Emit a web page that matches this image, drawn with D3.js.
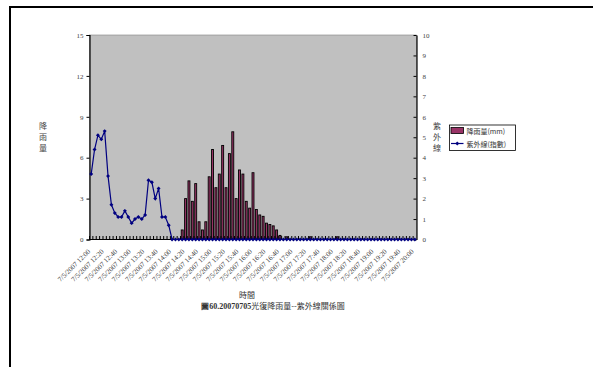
<!DOCTYPE html>
<html>
<head>
<meta charset="utf-8">
<script src="https://cdn.jsdelivr.net/npm/d3@7"></script>
<style>
  body { margin: 0; background: #fff; }
  svg { display: block; }
</style>
</head>
<body>
<div id="chart"></div>
<script>
// ---- data ----
const datePrefix = "7/5/2007 " ;
const times = [
  "12:00","12:05","12:10","12:15","12:20","12:25","12:30","12:35","12:40","12:45","12:50","12:55",
  "13:00","13:05","13:10","13:15","13:20","13:25","13:30","13:35","13:40","13:45","13:50","13:55",
  "14:00","14:05","14:10","14:15","14:20","14:25","14:30","14:35","14:40","14:45","14:50","14:55",
  "15:00","15:05","15:10","15:15","15:20","15:25","15:30","15:35","15:40","15:45","15:50","15:55",
  "16:00","16:05","16:10","16:15","16:20","16:25","16:30","16:35","16:40","16:45","16:50","16:55",
  "17:00","17:05","17:10","17:15","17:20","17:25","17:30","17:35","17:40","17:45","17:50","17:55",
  "18:00","18:05","18:10","18:15","18:20","18:25","18:30","18:35","18:40","18:45","18:50","18:55",
  "19:00","19:05","19:10","19:15","19:20","19:25","19:30","19:35","19:40","19:45","19:50","19:55",
  "20:00"
] ;
const tickTimes = [
  "12:00","12:20","12:40","13:00","13:20","13:40","14:00","14:20","14:40","15:00","15:20","15:40",
  "16:00","16:20","16:40","17:00","17:20","17:40","18:00","18:20","18:40","19:00","19:20","19:40","20:00"
] ;
// 降雨量 (mm), left axis
const rain = [
  0,0,0,0,0,0,0,0,0,0,0,0,
  0,0,0,0,0,0,0,0,0,0,0,0,
  0,0,0,0.7,3.0,4.3,2.8,4.1,1.3,0.7,1.3,4.6,
  6.6,3.8,4.8,6.9,3.8,6.3,7.9,3.0,5.1,4.8,2.8,2.3,
  4.9,2.2,1.8,1.7,1.2,1.1,1.0,0.7,0.3,0,0.2,0,
  0,0,0,0,0,0.2,0,0,0,0,0,0,
  0,0.2,0,0,0,0,0,0,0,0,0,0,
  0,0,0,0,0,0,0,0,0,0,0,0,
  0
] ;
// 紫外線 (指數), right axis
const uv = [
  3.2,4.4,5.1,4.9,5.3,3.1,1.7,1.3,1.1,1.1,1.4,1.1,
  0.8,1.0,1.1,1.0,1.2,2.9,2.8,2.0,2.5,1.1,1.1,0.7,
  0,0,0,0,0,0,0,0,0,0,0,0,
  0,0,0,0,0,0,0,0,0,0,0,0,
  0,0,0,0,0,0,0,0,0,0,0,0,
  0,0,0,0,0,0,0,0,0,0,0,0,
  0,0,0,0,0,0,0,0,0,0,0,0,
  0,0,0,0,0,0,0,0,0,0,0,0,
  0
] ;
const leftTicks = [0, 3, 6, 9, 12, 15] ;
const rightTicks = [0, 1, 2, 3, 4, 5, 6, 7, 8, 9, 10] ;

// ---- layout ----
const W = 593, H = 367 ;
const plot = { left : 89.5, right : 416.5, top : 35, bottom : 239.5 } ;
const serif = "'Liberation Serif', 'Times New Roman', serif" ;
const cjk = "'Noto Sans CJK TC', 'Noto Sans CJK SC', sans-serif" ;

const svg = d3.select("#chart").append("svg")
    .attr("width", W)
    .attr("height", H) ;

// outer frame (top and left edges only visible)
svg.append("path")
    .attr("d", `M10,${H} L10,7 L${W},7`)
    .attr("fill", "none")
    .attr("stroke", "#000")
    .attr("stroke-width", 2) ;

const xScale = d3.scaleBand().domain(times).range([plot.left, plot.right]).padding(0) ;
const yLeft = d3.scaleLinear().domain([0, 15]).range([plot.bottom, plot.top]) ;
const yRight = d3.scaleLinear().domain([0, 10]).range([plot.bottom, plot.top]) ;
const cx = t => xScale(t) + xScale.bandwidth() / 2 ;

// plot area
svg.append("rect")
    .attr("x", plot.left).attr("y", plot.top)
    .attr("width", plot.right - plot.left).attr("height", plot.bottom - plot.top)
    .attr("fill", "#c0c0c0")
    .attr("stroke", "#808080")
    .attr("stroke-width", 0.6) ;

// bars
const barW = xScale.bandwidth() * 0.58 ;
svg.append("g").selectAll("rect")
    .data(times.map((t, i) => ({ t : t, v : rain[i] })).filter(d => d.v > 0))
    .enter().append("rect")
    .attr("x", d => cx(d.t) - barW / 2)
    .attr("y", d => yLeft(d.v))
    .attr("width", barW)
    .attr("height", d => plot.bottom - yLeft(d.v))
    .attr("fill", "#993366")
    .attr("stroke", "#000")
    .attr("stroke-width", 0.9) ;

// left axis
const gL = svg.append("g")
    .attr("transform", `translate(${plot.left},0)`)
    .call(d3.axisLeft(yLeft).tickValues(leftTicks).tickSize(3).tickPadding(3)) ;
gL.select(".domain").attr("stroke", "#000").attr("stroke-width", 1.2) ;
gL.selectAll("text").attr("font-family", serif).attr("font-size", 7).attr("fill", "#444") ;

// right axis (ticks pointing inward)
const gR = svg.append("g")
    .attr("transform", `translate(${plot.right},0)`)
    .call(d3.axisRight(yRight).tickValues(rightTicks).tickSize(0).tickPadding(6)) ;
gR.select(".domain").attr("stroke", "#000").attr("stroke-width", 1.2) ;
gR.selectAll(".tick").append("line").attr("x1", -3).attr("x2", 0).attr("stroke", "#000") ;
gR.selectAll("text").attr("font-family", serif).attr("font-size", 7).attr("fill", "#444") ;

// bottom axis: small inward ticks at every category boundary
const gB = svg.append("g") ;
gB.append("line")
    .attr("x1", plot.left).attr("x2", plot.right)
    .attr("y1", plot.bottom).attr("y2", plot.bottom)
    .attr("stroke", "#000").attr("stroke-width", 1.2) ;
gB.selectAll(".ct")
    .data(times)
    .enter().append("line")
    .attr("class", "ct")
    .attr("x1", d => xScale(d)).attr("x2", d => xScale(d))
    .attr("y1", plot.bottom).attr("y2", plot.bottom - 3.5)
    .attr("stroke", "#000").attr("stroke-width", 1) ;
gB.selectAll(".xl")
    .data(tickTimes)
    .enter().append("text")
    .attr("class", "xl")
    .attr("transform", d => `translate(${cx(d) - 0.5},${plot.bottom + 12.5}) rotate(-45)`)
    .attr("text-anchor", "end")
    .attr("font-family", serif)
    .attr("font-size", 7)
    .attr("fill", "#444")
    .text(d => datePrefix + d) ;

// UV line
const line = d3.line()
    .x(d => cx(d.t))
    .y(d => yRight(d.v)) ;
const uvData = times.map((t, i) => ({ t : t, v : uv[i] })) ;
svg.append("path")
    .datum(uvData)
    .attr("d", line)
    .attr("fill", "none")
    .attr("stroke", "#000080")
    .attr("stroke-width", 1.2) ;
svg.append("g").selectAll("path")
    .data(uvData)
    .enter().append("path")
    .attr("transform", d => `translate(${cx(d.t)},${yRight(d.v)})`)
    .attr("d", d3.symbol(d3.symbolDiamond2, 10))
    .attr("fill", "#000080") ;

// axis titles (vertical stacked characters)
const stack = (chars, x, y0) => {
    svg.append("g").selectAll("text")
        .data(chars)
        .enter().append("text")
        .attr("x", x)
        .attr("y", (d, i) => y0 + i * 11)
        .attr("text-anchor", "middle")
        .attr("font-family", cjk)
        .attr("font-size", 8)
        .attr("fill", "#444")
        .text(d => d) ;
} ;
stack(["降", "雨", "量"], 43, 129) ;
stack(["紫", "外", "線"], 437, 129) ;

svg.append("text")
    .attr("x", 247).attr("y", 298)
    .attr("text-anchor", "middle")
    .attr("font-family", cjk).attr("font-size", 8).attr("fill", "#333")
    .text("時間") ;

const cap = svg.append("text")
    .attr("x", 273).attr("y", 309)
    .attr("text-anchor", "middle")
    .attr("font-size", 8).attr("fill", "#333") ;
cap.append("tspan").attr("font-family", serif).attr("font-weight", "bold").text("圖60.20070705") ;
cap.append("tspan").attr("font-family", cjk).text("光復降雨量--紫外線關係圖") ;

// legend
const lg = svg.append("g").attr("transform", "translate(449.5,125)") ;
lg.append("rect")
    .attr("width", 66).attr("height", 25.5)
    .attr("fill", "#fff").attr("stroke", "#000").attr("stroke-width", 0.8) ;
lg.append("rect")
    .attr("x", 1.5).attr("y", 2.5).attr("width", 12.5).attr("height", 6)
    .attr("fill", "#993366").attr("stroke", "#000").attr("stroke-width", 0.8) ;
lg.append("line")
    .attr("x1", 1.5).attr("x2", 14).attr("y1", 18.5).attr("y2", 18.5)
    .attr("stroke", "#000080").attr("stroke-width", 1.2) ;
lg.append("path")
    .attr("transform", "translate(7.75,18.5)")
    .attr("d", d3.symbol(d3.symbolDiamond2, 10))
    .attr("fill", "#000080") ;
lg.selectAll(".lt")
    .data(["降雨量(mm)", "紫外線(指數)"])
    .enter().append("text")
    .attr("class", "lt")
    .attr("x", 17)
    .attr("y", (d, i) => 8.5 + i * 13)
    .attr("font-family", cjk)
    .attr("font-size", 7)
    .attr("fill", "#333")
    .text(d => d) ;
</script>
</body>
</html>
